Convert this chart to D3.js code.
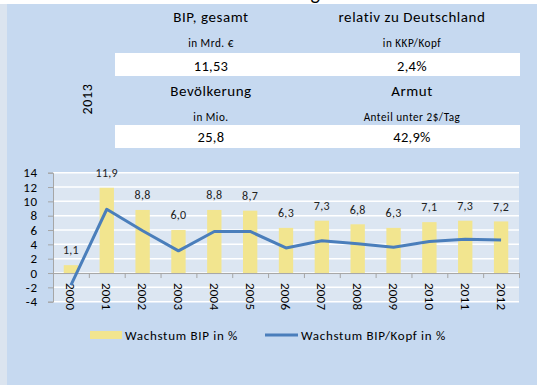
<!DOCTYPE html>
<html>
<head>
<meta charset="utf-8">
<script src="https://cdn.jsdelivr.net/npm/d3@7"></script>
<style>
  body { margin: 0; background: #ffffff; }
  svg { display: block; }
  text { font-family: Carlito, Lato, "Open Sans", sans-serif; }
</style>
</head>
<body>
<script>
// Key figures panel
const factYear = "2013";
const factHeaders = ["BIP, gesamt", "relativ zu Deutschland", "Bevölkerung", "Armut"];
const factUnits = ["in Mrd. €", "in KKP/Kopf", "in Mio.", "Anteil unter 2$/Tag"];
const factValues = ["11,53", "2,4%", "25,8", "42,9%"];

// Growth series
const years = ["2000", "2001", "2002", "2003", "2004", "2005", "2006",
               "2007", "2008", "2009", "2010", "2011", "2012"];
const gdpGrowth = [1.1, 11.9, 8.8, 6.0, 8.8, 8.7, 6.3, 7.3, 6.8, 6.3, 7.1, 7.3, 7.2];
const gdpPerCapitaGrowth = [-1.7, 8.9, 5.9, 3.1, 5.8, 5.8, 3.5, 4.5, 4.1, 3.6, 4.4, 4.7, 4.6];
const yTicks = [-4, -2, 0, 2, 4, 6, 8, 10, 12, 14];
const seriesNames = ["Wachstum BIP in %", "Wachstum BIP/Kopf in %"];
const titleText = "Wirtschaftliche Entwicklung";

const W = 537, H = 385;
const deLocale = d3.formatLocale({ decimal: ",", thousands: ".", grouping: [3], currency: ["", " €"] });
const fmt1 = deLocale.format(".1f");
const fmtTick = deLocale.format("d");

const svg = d3.select("body").append("svg").attr("width", W).attr("height", H);

// backgrounds
svg.append("rect").attr("x", 0).attr("y", 0).attr("width", W).attr("height", H).attr("fill", "#ffffff");
svg.append("rect").attr("x", 0).attr("y", 4).attr("width", 8).attr("height", H - 4).attr("fill", "#dbe4ef");
svg.append("rect").attr("x", 7).attr("y", 4).attr("width", W - 7).attr("height", H - 4).attr("fill", "#c6d9f0");

// page title sits above the frame; only its descender reaches into view
svg.append("text").attr("x", 320).attr("y", -0.5).attr("text-anchor", "end")
  .attr("font-size", 20).attr("fill", "#000").text(titleText);

// ---- facts table ----
const colX = [211, 412];
const rowTop = [0, 74];
[53, 125].forEach(yy => {
  svg.append("rect").attr("x", 115).attr("y", yy).attr("width", 405).attr("height", 23).attr("fill", "#ffffff");
});
factHeaders.forEach((t, i) => {
  const cx = colX[i % 2], dy = rowTop[Math.floor(i / 2)];
  svg.append("text").attr("x", cx).attr("y", 17 + dy).attr("dy", "0.35em")
    .attr("text-anchor", "middle").attr("font-size", 15).attr("letter-spacing", 0.55)
    .attr("fill", "#000").text(t);
  svg.append("text").attr("x", cx).attr("y", 43 + dy).attr("dy", "0.35em")
    .attr("text-anchor", "middle").attr("font-size", 11.2).attr("letter-spacing", 0.5)
    .attr("fill", "#000").text(factUnits[i]);
  svg.append("text").attr("x", cx).attr("y", 65.5 + dy - (dy ? 2.5 : 0)).attr("dy", "0.35em")
    .attr("text-anchor", "middle").attr("font-size", 14.5).attr("letter-spacing", 0.3)
    .attr("fill", "#000").text(factValues[i]);
});
svg.append("text").attr("transform", "translate(87,99) rotate(-90)").attr("dy", "0.35em")
  .attr("text-anchor", "middle").attr("font-size", 14).attr("letter-spacing", 0.6)
  .attr("fill", "#000").text(factYear);

// ---- chart ----
const plot = { left: 53, right: 519, top: 172.7, bottom: 301.7 };
const x = d3.scaleBand().domain(years).range([plot.left, plot.right]).padding(0);
const xEdge = d3.scaleLinear().domain([0, years.length]).range([plot.left, plot.right]);
const y = d3.scaleLinear().domain([-4, 14]).range([plot.bottom, plot.top]);
const bw = x.bandwidth();

svg.append("rect").attr("x", plot.left).attr("y", plot.top)
  .attr("width", plot.right - plot.left).attr("height", plot.bottom - plot.top).attr("fill", "#dce6f2");

// gridlines
svg.append("g").selectAll("line").data(yTicks).join("line")
  .attr("x1", plot.left).attr("x2", plot.right)
  .attr("y1", d => y(d)).attr("y2", d => y(d))
  .attr("stroke", "#ffffff").attr("stroke-width", 1.5);

// bars
svg.append("g").selectAll("rect").data(years).join("rect")
  .attr("x", d => x(d) + bw * 0.3)
  .attr("width", bw * 0.4)
  .attr("y", (d, i) => y(Math.max(0, gdpGrowth[i])))
  .attr("height", (d, i) => Math.abs(y(gdpGrowth[i]) - y(0)))
  .attr("fill", "#f2e58f");

// bar value labels
svg.append("g").selectAll("text").data(years).join("text")
  .attr("x", d => x(d) + bw / 2)
  .attr("y", (d, i) => y(gdpGrowth[i]) - 15)
  .attr("dy", "0.35em").attr("text-anchor", "middle")
  .attr("font-size", 12).attr("letter-spacing", 0.3).attr("fill", "#222")
  .text((d, i) => fmt1(gdpGrowth[i]));

// y axis
const yAxis = svg.append("g").attr("transform", `translate(${plot.left},0)`)
  .call(d3.axisLeft(y).tickValues(yTicks).tickSize(5).tickPadding(10)
    .tickFormat(d => d < 0 ? "-" + Math.abs(d) : fmtTick(d)));
yAxis.select(".domain").attr("stroke", "#a6a6a6");
yAxis.selectAll(".tick line").attr("stroke", "#a6a6a6");
yAxis.selectAll("text").attr("font-size", 13).attr("letter-spacing", 0.8).attr("fill", "#000")
  .style("font-family", "Carlito, Lato, sans-serif");

// x axis at zero with ticks on category boundaries
const xTicks = svg.append("g").attr("transform", `translate(0,${y(0)})`)
  .call(d3.axisBottom(xEdge).tickValues(d3.range(years.length + 1)).tickSize(5).tickFormat(""));
xTicks.select(".domain").attr("stroke", "#a6a6a6");
xTicks.selectAll(".tick line").attr("stroke", "#a6a6a6");

// rotated category labels
const xLab = svg.append("g").attr("transform", `translate(0,${y(0)})`)
  .call(d3.axisBottom(x).tickSize(0));
xLab.select(".domain").remove();
xLab.selectAll("text")
  .attr("x", 0).attr("y", 0).attr("dy", "0.35em")
  .attr("transform", "rotate(90) translate(10,0)")
  .attr("text-anchor", "start")
  .attr("font-size", 13).attr("letter-spacing", 0.2).attr("fill", "#000")
  .style("font-family", "Carlito, Lato, sans-serif");

// per-capita growth line
const line = d3.line().x((d, i) => x(years[i]) + bw / 2).y(d => y(d));
svg.append("path").datum(gdpPerCapitaGrowth).attr("d", line)
  .attr("fill", "none").attr("stroke", "#4a7ebb").attr("stroke-width", 3)
  .attr("stroke-linejoin", "round");

// legend
svg.append("rect").attr("x", 90).attr("y", 331).attr("width", 32).attr("height", 8).attr("fill", "#f2e58f");
svg.append("text").attr("x", 125).attr("y", 335).attr("dy", "0.35em")
  .attr("font-size", 13).attr("letter-spacing", 0.7).attr("fill", "#000").text(seriesNames[0]);
svg.append("line").attr("x1", 265).attr("x2", 298).attr("y1", 335).attr("y2", 335)
  .attr("stroke", "#4a7ebb").attr("stroke-width", 3);
svg.append("text").attr("x", 301).attr("y", 335).attr("dy", "0.35em")
  .attr("font-size", 13).attr("letter-spacing", 0.7).attr("fill", "#000").text(seriesNames[1]);
</script>
</body>
</html>
